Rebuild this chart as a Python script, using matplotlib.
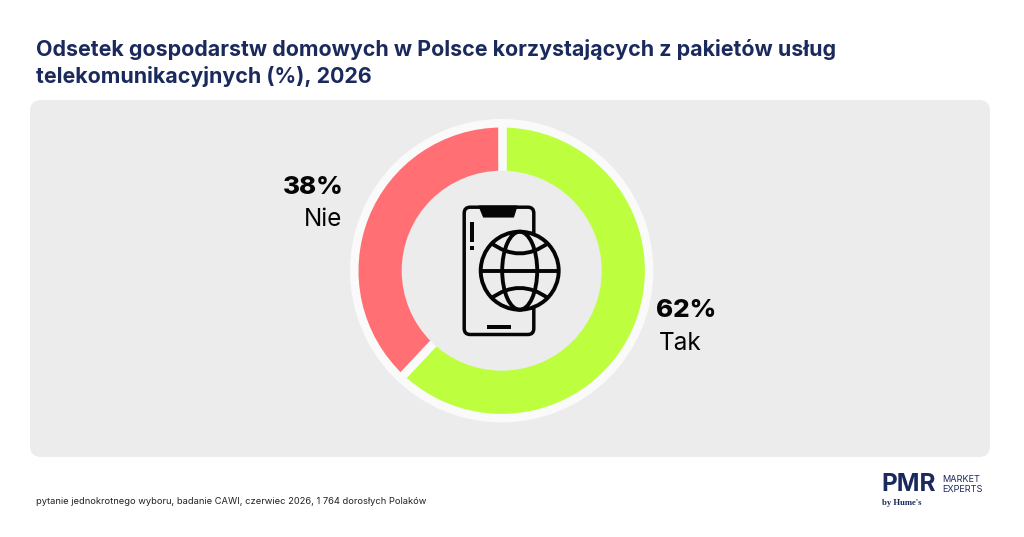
import numpy as np
import matplotlib
matplotlib.use("Agg")
import matplotlib.pyplot as plt
from matplotlib.patches import Circle, FancyBboxPatch, Ellipse, PathPatch, Polygon, Rectangle
from matplotlib.path import Path

labels = ["Tak", "Nie"]
shares = [62, 38]
colors = ["#BDFF3F", "#FF6F73"]
title = "Odsetek gospodarstw domowych w Polsce korzystających z pakietów usług\ntelekomunikacyjnych (%), 2026"
note = "pytanie jednokrotnego wyboru, badanie CAWI, czerwiec 2026, 1 764 dorosłych Polaków"

W, H = 1024, 537
NAVY = "#1B2A5C"
INK = "#050505"
PANEL = "#ECECEC"
RING = "#FAFAFA"
plt.rcParams["font.family"] = ["Inter", "DejaVu Sans"]

fig = plt.figure(figsize=(W / 100, H / 100), dpi=100, facecolor="white")
ax = fig.add_axes([0, 0, 1, 1])
def Y(y):
    return H - y

ax.add_patch(FancyBboxPatch((40, Y(447)), 940, 337, boxstyle="round,pad=10,rounding_size=11",
                            fc=PANEL, ec="none", zorder=0))

cx, cy, r_out, r_in = 501.7, Y(270.7), 143.2, 100
ax.add_patch(Circle((cx, cy), 151.7, fc=RING, ec="none", zorder=1))
wedges, _ = ax.pie(shares, colors=colors, startangle=90, counterclock=False,
                   center=(cx, cy), radius=r_out, wedgeprops=dict(linewidth=0, zorder=2))
for w in wedges:
    a = np.deg2rad(w.theta2)
    ax.plot([cx, cx + 148 * np.cos(a)], [cy, cy + 148 * np.sin(a)], color=RING, lw=6.2,
            solid_capstyle="butt", zorder=3)
ax.add_patch(Circle((cx, cy), r_in, fc=PANEL, ec="none", zorder=4))

# central icon: phone with globe
LW = 2.5
GLW = 2.8
ax.add_patch(FancyBboxPatch((469.2, Y(329.5)), 59.6, 117.3, boxstyle="round,pad=5,rounding_size=6",
                            fc="none", ec=INK, lw=LW, zorder=5))
ax.add_patch(Polygon([(479, Y(206)), (517, Y(206)), (513.5, Y(217)), (483.5, Y(217))],
                     fc=INK, ec=INK, lw=0.8, joinstyle="round", zorder=5))
ax.add_patch(Rectangle((470.3, Y(242.3)), 4, 20.6, fc=INK, ec="none", zorder=5))
ax.add_patch(Rectangle((470.3, Y(250.3)), 4, 4.3, fc=INK, ec="none", zorder=5))
ax.add_patch(Rectangle((486.7, Y(328.5)), 24.7, 4, fc=INK, ec="none", zorder=5))
gx, gy, gr = 519.7, Y(270.7), 39
ax.add_patch(Circle((gx, gy), gr, fc=PANEL, ec=INK, lw=GLW, zorder=6))
ax.add_patch(Ellipse((gx, gy), 35, 2 * gr, fc="none", ec=INK, lw=GLW, zorder=7))
ax.plot([gx - gr, gx + gr], [gy, gy], color=INK, lw=GLW, solid_capstyle="butt", zorder=7)
for s in (1, -1):
    ax.add_patch(PathPatch(Path([(gx - 29, gy + s * 28), (gx, gy + s * 6.5), (gx + 29, gy + s * 28)],
                                [Path.MOVETO, Path.CURVE3, Path.CURVE3]),
                           fc="none", ec=INK, lw=GLW, zorder=7))

# labels
ax.text(344, Y(187), f"{shares[1]}%", ha="right", va="center", fontsize=18.7, fontweight="heavy", color=INK)
ax.text(342, Y(219), labels[1], ha="right", va="center", fontsize=17.5, color=INK)
ax.text(656, Y(310.5), f"{shares[0]}%", ha="left", va="center", fontsize=18.7, fontweight="heavy", color=INK)
ax.text(659, Y(343.5), labels[0], ha="left", va="center", fontsize=17.5, color=INK)

ax.text(36, Y(63), title, ha="left", va="center", fontsize=15.42, fontweight="bold", color=NAVY, linespacing=1.33)
ax.text(36, Y(501), note, ha="left", va="center", fontsize=6.72, color="#222222")

# logo
ax.text(881, Y(484.5), "PMR", ha="left", va="center", fontsize=17.5, fontweight="bold", color=NAVY)
ax.text(942, Y(480), "MARKET", ha="left", va="center", fontsize=6.6, color=NAVY)
ax.text(942, Y(489.5), "EXPERTS", ha="left", va="center", fontsize=6.6, color=NAVY)
ax.text(882, Y(503), "by Hume's", ha="left", va="center", fontsize=6.2, fontweight="bold",
        family=["Liberation Serif", "DejaVu Serif"], color=NAVY)

ax.set_xlim(0, W)
ax.set_ylim(0, H)
ax.set_aspect("auto")
ax.axis("off")
fig.savefig("out.png", dpi=100, facecolor="white")
